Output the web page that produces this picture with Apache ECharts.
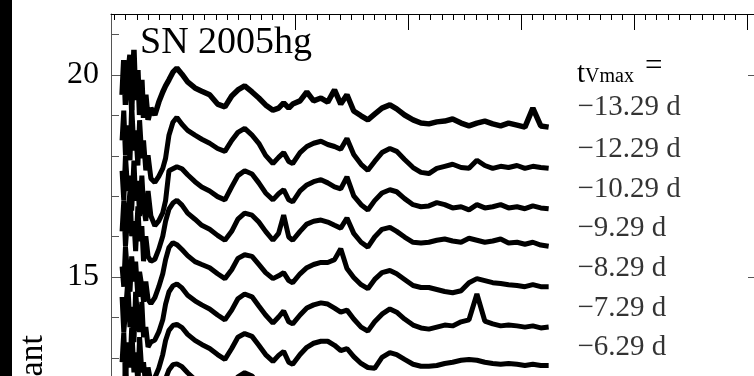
<!DOCTYPE html>
<html>
<head>
<meta charset="utf-8">
<script src="https://cdn.jsdelivr.net/npm/echarts@6/dist/echarts.min.js"></script>
<style>
html, body { margin: 0; padding: 0; background: #fff; }
#chart { width: 754px; height: 376px; }
</style>
</head>
<body>
<div id="chart"></div>
<script>
// wavelength grid (Angstrom), shared by every spectrum
var wave = [3470,3485,3500,3520,3540,3555,3575,3590,3610,3625,3645,3660,3680,3700,3725,3760,3795,3830,3855,3885,
    3920,3955,4000,4050,4115,4175,4245,4315,4380,4440,4495,4555,4620,4680,4740,4805,4855,4900,4945,4980,
    5045,5105,5165,5230,5290,5350,5405,5460,5520,5585,5645,5705,5770,5840,5900,5970,6045,6115,6185,6255,
    6325,6395,6470,6540,6610,6680,6750,6820,6890,6965,7035,7105,7175,7245];

// relative flux of each spectrum (before adding its constant)
var spec1 = [1.51,2.37,1.26,2.00,2.50,1.13,2.62,1.38,2.12,1.01,1.88,0.94,1.51,0.89,1.18,1.01,1.33,1.58,1.73,1.88,
    2.07,2.17,2.02,1.83,1.68,1.60,1.51,1.28,1.21,1.48,1.63,1.73,1.58,1.43,1.26,1.13,1.18,1.31,1.18,1.28,
    1.36,1.58,1.36,1.43,1.33,1.63,1.28,1.51,1.11,0.99,0.89,1.03,1.18,1.26,1.16,1.01,0.89,0.81,0.79,0.84,
    0.86,0.91,0.81,0.74,0.81,0.86,0.79,0.74,0.81,0.76,0.71,1.18,0.74,0.71];
var spec2 = [1.38,2.12,1.01,1.75,0.89,2.25,1.13,1.63,0.76,1.88,0.94,1.38,0.64,1.01,0.44,0.34,0.49,0.69,0.94,1.51,
    1.83,1.95,1.78,1.63,1.51,1.41,1.31,1.18,1.11,1.38,1.58,1.68,1.51,1.31,1.01,0.81,0.96,1.08,0.86,0.81,
    1.08,1.23,1.31,1.36,1.28,1.23,1.16,1.43,1.03,0.79,0.64,0.86,1.08,1.18,1.11,0.91,0.71,0.59,0.56,0.69,
    0.74,0.79,0.71,0.69,0.89,0.76,0.69,0.74,0.71,0.76,0.69,0.74,0.71,0.69];
var spec3 = [1.63,0.89,2.00,1.13,1.51,0.64,1.88,0.89,1.38,0.51,1.51,0.76,0.39,1.13,0.51,0.27,0.39,0.59,0.89,1.63,
    1.68,1.73,1.68,1.53,1.36,1.23,1.13,0.99,0.91,1.23,1.51,1.63,1.55,1.33,1.08,0.91,1.06,1.16,0.91,0.86,
    1.13,1.28,1.36,1.41,1.33,1.23,1.18,1.48,1.01,0.79,0.66,0.89,1.08,1.16,1.11,0.94,0.79,0.74,0.76,0.84,
    0.79,0.71,0.74,0.66,0.79,0.71,0.74,0.79,0.71,0.74,0.69,0.76,0.71,0.69];
var spec4 = [1.13,1.88,0.76,1.51,2.12,1.01,1.38,0.64,1.75,0.89,1.26,0.39,1.01,0.51,0.39,0.44,0.69,1.01,1.38,1.68,
    1.83,1.90,1.78,1.58,1.43,1.28,1.18,1.03,0.91,1.13,1.43,1.58,1.53,1.36,1.13,0.91,1.08,1.53,0.99,0.91,
    1.13,1.31,1.38,1.41,1.36,1.28,1.21,1.46,1.08,0.86,0.74,0.99,1.18,1.23,1.13,0.99,0.86,0.84,0.86,0.91,
    0.94,0.89,0.86,0.96,0.91,0.86,0.89,0.94,0.84,0.86,0.81,0.86,0.79,0.76];
var spec5 = [1.26,0.76,1.75,1.01,0.64,1.51,0.89,1.38,0.51,1.13,0.76,0.39,0.89,0.44,0.34,0.49,0.76,1.08,1.43,1.73,
    1.85,1.80,1.68,1.53,1.38,1.31,1.23,1.08,0.96,1.18,1.46,1.55,1.51,1.31,1.11,0.96,1.03,1.11,0.91,0.86,
    1.08,1.23,1.31,1.36,1.36,1.43,1.70,1.21,0.99,0.81,0.71,0.94,1.11,1.16,1.08,0.94,0.79,0.74,0.74,0.69,
    0.64,0.61,0.66,0.86,0.96,0.91,0.86,0.84,0.81,0.79,0.76,0.81,0.76,0.76];
var spec6 = [1.51,0.64,1.13,1.88,0.76,1.26,0.39,1.63,0.89,0.64,1.38,0.51,0.76,0.27,0.39,0.44,0.64,0.94,1.33,1.63,
    1.78,1.83,1.73,1.55,1.41,1.31,1.21,1.06,0.94,1.18,1.46,1.58,1.51,1.28,1.06,0.86,1.01,1.16,0.89,0.84,
    1.06,1.23,1.31,1.36,1.33,1.23,1.13,1.18,0.96,0.76,0.66,0.89,1.08,1.21,1.13,0.96,0.81,0.74,0.71,0.76,
    0.81,0.79,0.89,0.94,1.58,0.91,0.84,0.79,0.81,0.79,0.76,0.79,0.74,0.76];
var spec7 = [0.89,1.63,0.51,1.38,0.76,1.75,0.64,1.13,0.39,1.51,0.64,0.89,0.27,0.76,0.39,0.51,0.74,1.08,1.43,1.68,
    1.80,1.83,1.75,1.58,1.43,1.33,1.23,1.08,0.96,1.23,1.51,1.60,1.53,1.31,1.08,0.91,1.06,1.16,0.89,0.84,
    1.08,1.26,1.36,1.41,1.41,1.31,1.18,1.23,1.03,0.86,0.76,0.74,1.01,1.13,1.08,0.96,0.84,0.79,0.79,0.81,
    0.86,0.89,0.94,0.96,0.94,0.89,0.86,0.84,0.86,0.84,0.81,0.84,0.81,0.81];
var spec8 = [1.38,0.64,1.88,0.89,1.51,0.51,1.26,0.76,1.63,0.39,1.13,0.64,0.39,0.89,0.34,0.49,0.76,1.13,1.48,1.70,
    1.83,1.85,1.78,1.63,1.46,1.36,1.26,1.11,0.99,1.26,1.53,1.63,1.55,1.33,1.11,0.94,1.08,1.18,0.91,0.86,
    1.11,1.28,1.38,1.43,1.41,1.33,1.21,1.26,1.06,0.89,0.76,0.94,1.11,1.18,1.11,0.99,0.86,0.81,0.81,0.84,
    0.89,0.91,0.94,0.96,0.94,0.91,0.89,0.86,0.86,0.84,0.84,0.84,0.81,0.81];

var spectra = [spec1, spec2, spec3, spec4, spec5, spec6, spec7, spec8];
var offsets = [18, 17, 16, 15, 14, 13, 12, 11];

// epoch labels and where they sit
var epochs = ['\u221213.29 d', '\u221212.29 d', '\u221210.29 d', '\u22129.29 d', '\u22128.29 d', '\u22127.29 d', '\u22126.29 d'];
var labelX = 7500;
var labelY = [19.2, 18.15, 17.18, 16.2, 15.22, 14.23, 13.26];

// axes
var xMin = 3372, xMax = 9124;
var yMin = 10, yMax = 21.51;
var xMajor = [5000, 6000, 7000, 8000, 9000];
var yMajor = [10, 15, 20];
var yLabels = [15, 20];

var xMinor = [];
for (var t = 3400; t < xMax; t += 100) {
    if (xMajor.indexOf(t) < 0) xMinor.push(t);
}
var yMinor = [];
for (var v = 11; v < yMax; v++) {
    if (yMajor.indexOf(v) < 0) yMinor.push(v);
}

var SERIF = '"Liberation Serif", "DejaVu Serif", serif';

var chart = echarts.init(document.getElementById('chart'));

var series = [];
spectra.forEach(function(s, k) {
    series.push({
        type: 'line',
        xAxisIndex: 0,
        yAxisIndex: 0,
        showSymbol: false,
        silent: true,
        lineStyle: { color: '#000', width: k === 0 ? 5.5 : 5 },
        data: wave.map(function(w, i) { return [w, s[i] + offsets[k]]; })
    });
});
series.push({
    type: 'scatter',
    xAxisIndex: 0,
    yAxisIndex: 0,
    symbolSize: 0,
    silent: true,
    label: {
        show: true,
        position: 'right',
        distance: 0,
        color: '#000',
        fontFamily: SERIF,
        fontSize: 29,
        formatter: function(p) { return epochs[p.dataIndex]; }
    },
    data: labelY.map(function(y) { return [labelX, y]; })
});

var option = {
    animation: false,
    backgroundColor: '#fff',
    grid: { left: 111, top: 14, width: 650, height: 465, containLabel: false, outerBoundsMode: 'none' },
    xAxis: [
        {
            type: 'value', position: 'top', min: xMin, max: xMax,
            axisLine: { show: true, lineStyle: { color: '#000', width: 1 } },
            axisTick: { show: true, inside: true, length: 16, customValues: xMajor, lineStyle: { color: '#000' } },
            axisLabel: { show: false },
            splitLine: { show: false }
        },
        {
            type: 'value', position: 'top', min: xMin, max: xMax,
            axisLine: { show: false },
            axisTick: { show: true, inside: true, length: 6, customValues: xMinor, lineStyle: { color: '#000' } },
            axisLabel: { show: false },
            splitLine: { show: false }
        }
    ],
    yAxis: [
        {
            type: 'value', position: 'left', min: yMin, max: yMax,
            axisLine: { show: true, lineStyle: { color: '#555', width: 1 } },
            axisTick: { show: true, inside: true, length: 13, customValues: yMajor, lineStyle: { color: '#555' } },
            axisLabel: { show: true, customValues: yLabels, margin: 12, color: '#000', fontFamily: SERIF, fontSize: 32 },
            splitLine: { show: false }
        },
        {
            type: 'value', position: 'left', min: yMin, max: yMax,
            axisLine: { show: false },
            axisTick: { show: true, inside: true, length: 8, customValues: yMinor, lineStyle: { color: '#555' } },
            axisLabel: { show: false },
            splitLine: { show: false }
        },
        {
            type: 'value', position: 'right', min: yMin, max: yMax,
            axisLine: { show: true, lineStyle: { color: '#555', width: 1 } },
            axisTick: { show: true, inside: true, length: 13, customValues: yMajor, lineStyle: { color: '#555' } },
            axisLabel: { show: false },
            splitLine: { show: false }
        }
    ],
    graphic: [
        { type: 'rect', left: 0, top: 0, shape: { width: 12, height: 376 }, style: { fill: '#000' }, silent: true },
        { type: 'text', x: 140, y: 43, style: { text: 'SN 2005hg', font: '38px ' + SERIF, fill: '#000', verticalAlign: 'middle' }, z: 10 },
        { type: 'text', x: 577, y: 74, style: { text: 't', font: '29px ' + SERIF, fill: '#000', verticalAlign: 'middle' } },
        { type: 'text', x: 585, y: 77, style: { text: 'Vmax', font: '20px ' + SERIF, fill: '#000', verticalAlign: 'middle' } },
        { type: 'text', x: 645, y: 67, style: { text: '=', font: '31px ' + SERIF, fill: '#000', verticalAlign: 'middle' } },
        { type: 'text', x: 33, y: 335, rotation: Math.PI / 2,
          style: { text: 'Relative Flux + Constant', font: '34px ' + SERIF, fill: '#000', align: 'right', verticalAlign: 'middle' } }
    ],
    series: series
};

chart.setOption(option);
</script>
</body>
</html>
